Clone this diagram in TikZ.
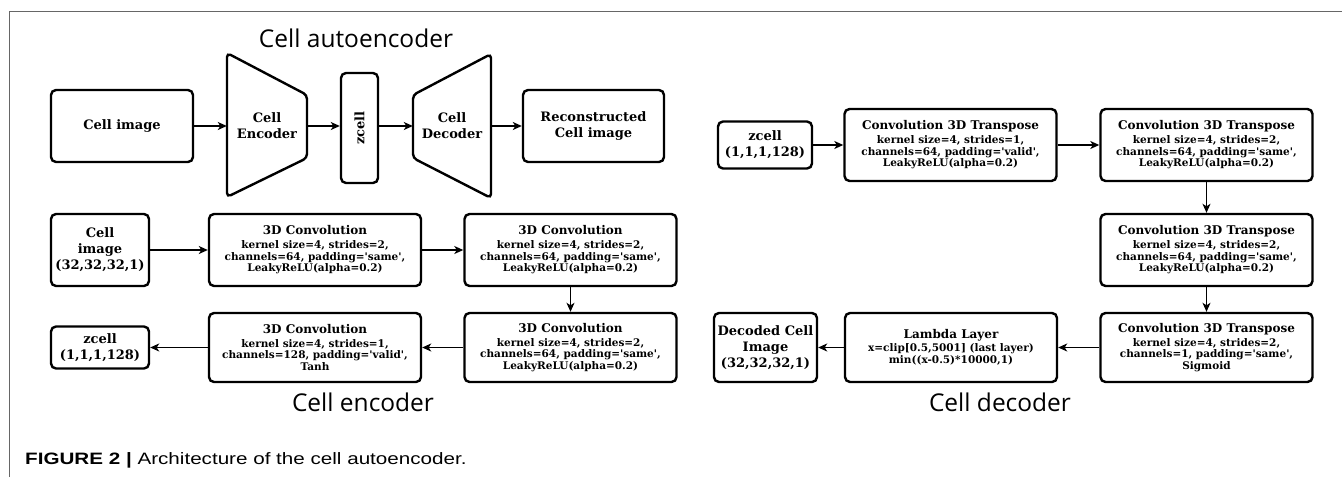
\documentclass[tikz,border=0pt]{standalone}
\usepackage{fontspec}
\usepackage{tikz}
\usetikzlibrary{arrows.meta}

\newfontfamily\boxfont{DejaVu Serif}
\newfontfamily\headfont{Open Sans}
\newfontfamily\capfont{Liberation Sans}

\tikzset{
  blk/.style={draw, line width=2.4pt, rounded corners=5pt, align=center, inner sep=1pt,
    font=\boxfont\bfseries\fontsize{10.5}{11.7}\selectfont},
  lbl/.style={align=center, inner sep=1pt, font=\boxfont\bfseries\fontsize{13}{16}\selectfont},
  trap/.style={line width=2.4pt, rounded corners=4pt},
  arr/.style={line width=1.3pt, -{Stealth[length=9pt,width=8pt,inset=2.5pt]}},
  head/.style={anchor=base, inner sep=0pt, font=\headfont\fontsize{24.5}{28}\selectfont},
}

\begin{document}
\begin{tikzpicture}[x=1pt, y=-1pt]

\useasboundingbox (0,0) rectangle (1342,477);
\draw[black!60, line width=1pt] (9,477) -- (9,11) -- (1342,11);

% autoencoder overview
\node[head] (ttl) at (356,47) {Cell autoencoder};

\node[blk, lbl, draw, minimum width=142, minimum height=72] (cimg) at (122,126) {Cell image};
\draw[trap] (227,53) -- (307,95) -- (307,158) -- (227,197) -- cycle;
\node[lbl, minimum width=80, minimum height=144] (enc) at (267,126) {Cell\\Encoder};
\node[blk, lbl, draw, minimum width=110, minimum height=37, rotate=90] (zc) at (359.5,128) {zcell};
\draw[trap] (491,54) -- (413,95) -- (413,158) -- (491,198) -- cycle;
\node[lbl, minimum width=78, minimum height=144] (dec) at (452,126) {Cell\\Decoder};
\node[blk, lbl, draw, minimum width=141, minimum height=72] (rec) at (593.5,126) {Reconstructed\\Cell image};

\draw[arr] (cimg) -- (enc);
\draw[arr] (enc) -- (zc.north |- enc);
\draw[arr] (zc.south |- dec) -- (dec);
\draw[arr] (dec) -- (rec);

% encoder
\node[blk, lbl, draw, minimum width=98, minimum height=72] (img) at (100,250) {Cell\\image\\(32,32,32,1)};
\node[blk, minimum width=212, minimum height=72] (c1) at (315,250)
  {{\fontsize{12}{14}\selectfont 3D Convolution}\\[2pt] kernel size=4, strides=2,\\ channels=64, padding='same',\\ LeakyReLU(alpha=0.2)};
\node[blk, minimum width=212, minimum height=72] (c2) at (570.5,250)
  {{\fontsize{12}{14}\selectfont 3D Convolution}\\[2pt] kernel size=4, strides=2,\\ channels=64, padding='same',\\ LeakyReLU(alpha=0.2)};
\node[blk, minimum width=212, minimum height=69] (c4) at (570.5,347.5)
  {{\fontsize{12}{14}\selectfont 3D Convolution}\\[2pt] kernel size=4, strides=2,\\ channels=64, padding='same',\\ LeakyReLU(alpha=0.2)};
\node[blk, minimum width=212, minimum height=69] (c3) at (315,347.5)
  {{\fontsize{12}{14}\selectfont 3D Convolution}\\[2pt] kernel size=4, strides=1,\\ channels=128, padding='valid',\\ Tanh};
\node[blk, lbl, draw, minimum width=98, minimum height=42] (zenc) at (100,347.5) {zcell\\(1,1,1,128)};
\node[head] (enclbl) at (363,411) {Cell encoder};

\draw[arr] (img) -- (c1);
\draw[arr] (c1) -- (c2);
\draw[arr] (c2) -- (c4);
\draw[arr] (c4) -- (c3);
\draw[arr] (c3) -- (zenc);

% decoder
\node[blk, lbl, draw, minimum width=94, minimum height=47] (zdec) at (765,145) {zcell\\(1,1,1,128)};
\node[blk, minimum width=212, minimum height=72] (t1) at (950.5,145)
  {{\fontsize{12}{14}\selectfont Convolution 3D Transpose}\\[2pt] kernel size=4, strides=1,\\ channels=64, padding='valid',\\ LeakyReLU(alpha=0.2)};
\node[blk, minimum width=212, minimum height=72] (t2) at (1206.5,145)
  {{\fontsize{12}{14}\selectfont Convolution 3D Transpose}\\[2pt] kernel size=4, strides=2,\\ channels=64, padding='same',\\ LeakyReLU(alpha=0.2)};
\node[blk, minimum width=212, minimum height=72] (t3) at (1206.5,250)
  {{\fontsize{12}{14}\selectfont Convolution 3D Transpose}\\[2pt] kernel size=4, strides=2,\\ channels=64, padding='same',\\ LeakyReLU(alpha=0.2)};
\node[blk, minimum width=212, minimum height=69] (t4) at (1206.5,347.5)
  {{\fontsize{12}{14}\selectfont Convolution 3D Transpose}\\[2pt] kernel size=4, strides=2,\\ channels=1, padding='same',\\ Sigmoid};
\node[blk, minimum width=212, minimum height=69] (lam) at (951,347.5)
  {{\fontsize{12}{14}\selectfont Lambda Layer}\\[1pt] x=clip[0.5,5001] (last layer)\\ min((x-0.5)*10000,1)};
\node[blk, lbl, draw, minimum width=103, minimum height=69] (dcd) at (765.5,347.5) {Decoded Cell\\Image\\(32,32,32,1)};
\node[head] (declbl) at (1000,411) {Cell decoder};

\draw[arr] (zdec) -- (t1);
\draw[arr] (t1) -- (t2);
\draw[arr] (t2) -- (t3);
\draw[arr] (t3) -- (t4);
\draw[arr] (t4) -- (lam);
\draw[arr] (lam) -- (dcd);

% caption
\node[anchor=base west, inner sep=0pt, font=\capfont\fontsize{16.5}{18}\selectfont] (cap) at (25,464)
  {\scalebox{1.25}[1]{\textbf{FIGURE 2 | }Architecture of the cell autoencoder.}};

\end{tikzpicture}
\end{document}
